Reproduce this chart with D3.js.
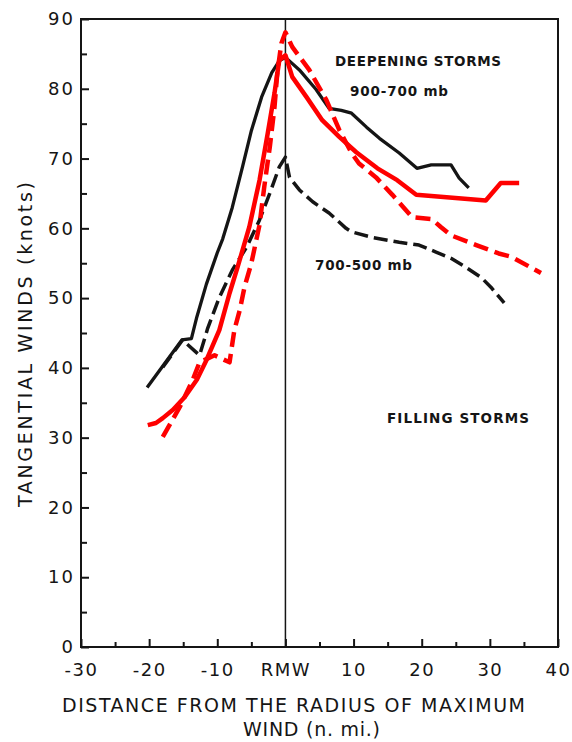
<!DOCTYPE html>
<html><head><meta charset="utf-8">
<script src="https://cdn.jsdelivr.net/npm/d3@7"></script>
<style>
body{margin:0;background:#fff}
svg{display:block}
text{font-family:"DejaVu Sans",sans-serif;fill:#151515}
</style></head>
<body><svg id="c" width="572" height="742"></svg>
<script>
// ---- data (distance from RMW in n.mi., tangential wind in knots) ----
const xTicks = [-30,-20,-10,0,10,20,30,40];
const xTickLabels = ["-30","-20","-10","RMW","10","20","30","40"];
const xMinorTicks = [-25,-15,-5,5,15,25,35];
const yTicks = [0,10,20,30,40,50,60,70,80,90];
const yMinorTicks = [5,15,25,35,45,55,65,75,85];

// Deepening storms 900-700 mb (black solid)
const deepening900_700 = [[-20.3,37.2],[-15.2,44],[-13.8,44.2],[-13,47.3],[-11.6,52],[-10,56.5],[-9.2,58.5],[-7.8,63],[-6.3,68.8],[-5,74],[-3.5,78.8],[-2,82.3],[-0.9,84],[0,84.5],[2.05,82.7],[4.5,79.9],[6.4,77.2],[8.2,76.9],[9.7,76.5],[11.9,74.5],[13.8,72.9],[16.7,70.8],[19.3,68.6],[21.4,69.1],[24.3,69.1],[25.5,67.2],[26.9,65.8]];
// Deepening storms 700-500 mb (black dashed)
const deepening700_500 = [[-18,40.1],[-15.1,44],[-12.6,41.8],[-11.4,45.7],[-9.7,50.1],[-7.8,54],[-5.7,57.3],[-3.8,61.2],[-2.3,65],[-0.9,68.8],[0,70.2],[0.6,67.3],[2.05,65.5],[4,63.8],[6.4,62.2],[8.9,60],[9.7,59.5],[12.7,58.7],[16.7,58],[19.6,57.6],[22.1,56.6],[24.3,55.7],[26.5,54.4],[28.8,52.9],[30.3,51.4],[32.1,49.3]];
// Filling storms 900-700 mb (red solid)
const filling900_700 = [[-20.2,31.8],[-19,32.1],[-18,32.8],[-16.5,34],[-14.8,35.8],[-13,38.3],[-11.6,41.1],[-9.7,45.4],[-8.2,50.7],[-7,54.5],[-5.3,60.2],[-3.8,66.9],[-2.6,73.6],[-1.6,79.4],[-0.9,84.1],[0,84.8],[1,81.7],[3.1,78.8],[5.4,75.5],[7.9,73.1],[10.4,70.9],[13.5,68.6],[16.4,66.9],[19.2,64.8],[29.4,64.0],[31.6,66.5],[34.3,66.5]];
// Filling storms 700-500 mb (red dashed)
const filling700_500 = [[-18,30.1],[-15.5,34.4],[-13.6,38.3],[-12.6,40.8],[-10.4,41.8],[-8.2,40.8],[-7.5,45.4],[-6.7,48.3],[-6,51.6],[-5,55],[-3.8,60.5],[-3.1,66],[-2.3,71.6],[-1.6,77.4],[-1.2,82.2],[-0.6,86.5],[0,88.1],[1,86],[3.5,82.7],[6,78.4],[7.9,74.1],[9.7,70.8],[10.8,69.3],[13.3,67.3],[15.7,64.8],[18.6,61.6],[21.5,61.3],[22.8,60.2],[24.3,59],[28,57.6],[31.3,56.4],[33.2,55.9],[37.5,53.6]];

// ---- drawing ----
const svg = d3.select("#c");
const x = d3.scaleLinear().domain([-30,40]).range([81,558]);
const y = d3.scaleLinear().domain([0,90]).range([647,19]);
const ink = "#151515";

// frame
svg.append("rect").attr("x",x(-30)).attr("y",y(90))
  .attr("width",x(40)-x(-30)).attr("height",y(0)-y(90))
  .attr("fill","none").attr("stroke",ink).attr("stroke-width",2);

// RMW vertical line
svg.append("line").attr("x1",x(0)).attr("x2",x(0)).attr("y1",y(90)).attr("y2",y(0))
  .attr("stroke",ink).attr("stroke-width",1.5);

function styleAxis(g){
  g.select(".domain").remove();
  g.selectAll("line").attr("stroke",ink).attr("stroke-width",2);
  g.selectAll("text").attr("fill",ink).style("font-family","'DejaVu Sans',sans-serif");
}

// x axis major
const gx = svg.append("g").attr("transform",`translate(0,${y(0)})`)
  .call(d3.axisBottom(x).tickValues(xTicks).tickSizeInner(-8).tickSizeOuter(0).tickPadding(16)
    .tickFormat((d,i)=>xTickLabels[i]));
styleAxis(gx);
gx.selectAll("text").attr("font-size",18).style("letter-spacing","1.5px");
// x axis minor
const gxm = svg.append("g").attr("transform",`translate(0,${y(0)})`)
  .call(d3.axisBottom(x).tickValues(xMinorTicks).tickSizeInner(-5).tickSizeOuter(0).tickFormat(""));
styleAxis(gxm);

// y axis major
const gy = svg.append("g").attr("transform",`translate(${x(-30)},0)`)
  .call(d3.axisLeft(y).tickValues(yTicks).tickSizeInner(-8).tickSizeOuter(0).tickPadding(6));
styleAxis(gy);
gy.selectAll("text").attr("font-size",18).style("letter-spacing","2px");
// y axis minor
const gym = svg.append("g").attr("transform",`translate(${x(-30)},0)`)
  .call(d3.axisLeft(y).tickValues(yMinorTicks).tickSizeInner(-6).tickSizeOuter(0).tickFormat(""));
styleAxis(gym);

// axis titles
svg.append("text").attr("x",62).attr("y",712).attr("font-size",19)
  .attr("textLength",463).attr("lengthAdjust","spacing")
  .text("DISTANCE FROM THE RADIUS OF MAXIMUM");
svg.append("text").attr("x",243).attr("y",736).attr("font-size",19)
  .attr("textLength",137).attr("lengthAdjust","spacing")
  .text("WIND (n. mi.)");
svg.append("text").attr("transform","translate(32,507) rotate(-90)").attr("font-size",19)
  .attr("textLength",325).attr("lengthAdjust","spacing")
  .text("TANGENTIAL WINDS (knots)");

// lines
const line = d3.line().x(d=>x(d[0])).y(d=>y(d[1]));
function draw(data,color,width,dash){
  svg.append("path").datum(data).attr("d",line).attr("fill","none")
    .attr("stroke",color).attr("stroke-width",width)
    .attr("stroke-linejoin","round").attr("stroke-linecap","butt")
    .attr("stroke-dasharray",dash||null);
}
draw(deepening900_700,ink,3.3,null);
draw(deepening700_500,ink,3.5,"14,6");
draw(filling900_700,"#ff0000",4.5,null);
draw(filling700_500,"#ff0000",4.5,"15,7");

// annotations
function label(t,x0,y0,len){
  svg.append("text").attr("x",x0).attr("y",y0).attr("font-size",13.5).attr("font-weight","bold")
    .attr("textLength",len).attr("lengthAdjust","spacing").text(t);
}
label("DEEPENING STORMS",335,66,166);
label("900-700 mb",350,96,98);
label("700-500 mb",315,270,97);
label("FILLING STORMS",387,423,142);
</script></body></html>
